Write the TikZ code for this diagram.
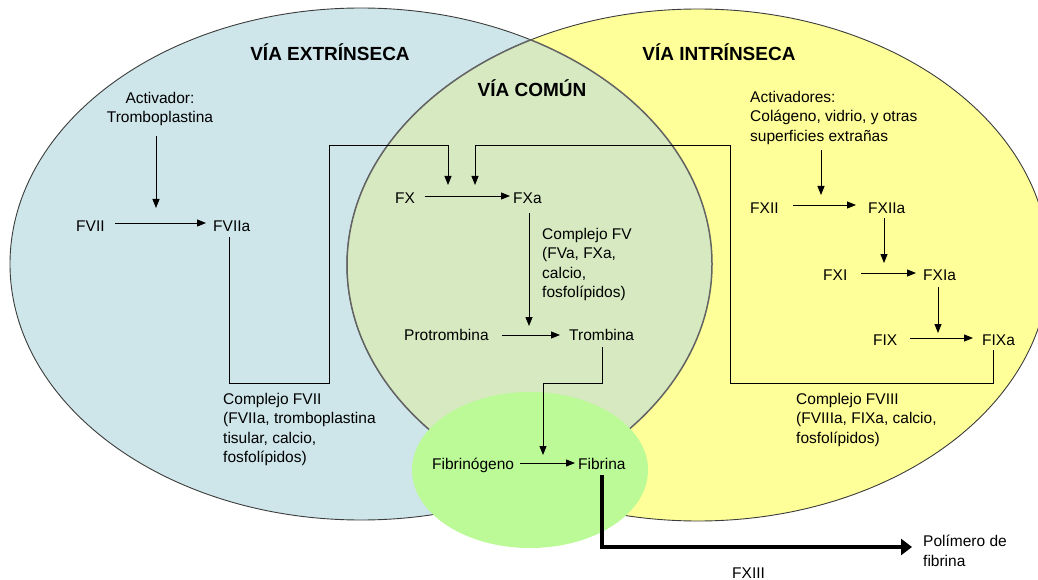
\documentclass[tikz,border=0pt]{standalone}
\usepackage{fontspec}
\setmainfont{Liberation Sans}
\usetikzlibrary{arrows.meta}
\definecolor{blueF}{RGB}{206,230,234}
\definecolor{yellowF}{RGB}{255,255,153}
\definecolor{commonF}{RGB}{214,233,192}
\definecolor{fibF}{RGB}{187,250,150}
\definecolor{edgeC}{RGB}{60,60,60}
\begin{document}
\begin{tikzpicture}[x=1pt,y=-1pt,
  lbl/.style={font=\fontsize{15.5}{19.5}\selectfont, inner sep=0pt, anchor=base west},
  ml/.style={font=\fontsize{15.5}{19.5}\selectfont, inner sep=0pt, anchor=north west, align=left},
  mlc/.style={font=\fontsize{15.5}{19.5}\selectfont, inner sep=0pt, anchor=north, align=center},
  ttl/.style={font=\bfseries\fontsize{19}{23}\selectfont, inner sep=0pt, anchor=base},
  conn/.style={line width=0.9pt, draw=black},
  arr/.style={conn, -{Triangle[length=9pt,width=7pt]}},
  bigarr/.style={line width=3.5pt, draw=black, -{Triangle[length=11pt,width=16pt]}},
  edge/.style={draw=edgeC, line width=0.9pt},
  lensedge/.style={draw=edgeC!80, line width=1.5pt}
]
\useasboundingbox (0,0) rectangle (1038,580);

% background sets
\begin{scope}
\clip (0,0) rectangle (1038,580);
\fill[blueF] (361,264) ellipse [x radius=351pt, y radius=256pt];
\draw[edge] (361,264) ellipse [x radius=351pt, y radius=256pt];
\fill[yellowF] (698,265) ellipse [x radius=351pt, y radius=256pt];
\draw[edge] (698,265) ellipse [x radius=351pt, y radius=256pt];
\begin{scope}
\clip (361,264) ellipse [x radius=351pt, y radius=256pt];
\fill[commonF] (698,265) ellipse [x radius=351pt, y radius=256pt];
\draw[lensedge] (698,265) ellipse [x radius=351pt, y radius=256pt];
\end{scope}
\begin{scope}
\clip (698,265) ellipse [x radius=351pt, y radius=256pt];
\draw[lensedge] (361,264) ellipse [x radius=351pt, y radius=256pt];
\end{scope}
\fill[fibF] (530,470) ellipse [x radius=118pt, y radius=78pt];
\end{scope}

% titles
\node[ttl] (tE) at (330,61) {VÍA EXTRÍNSECA};
\node[ttl] (tI) at (719,61) {VÍA INTRÍNSECA};
\node[ttl] (tC) at (532,97) {VÍA COMÚN};

% extrinsic
\node[mlc] (act) at (160,92) {Activador:\\Tromboplastina};
\node[lbl] (fvii) at (76,231) {FVII};
\node[lbl] (fviia) at (213,231) {FVIIa};
\node[ml] (cfvii) at (223,393) {Complejo FVII\\(FVIIa, tromboplastina\\tisular, calcio,\\fosfolípidos)};

% common
\node[lbl] (fx) at (395,204) {FX};
\node[lbl] (fxa) at (513,204) {FXa};
\node[ml] (cfv) at (542,228) {Complejo FV\\(FVa, FXa,\\calcio,\\fosfolípidos)};
\node[lbl] (prot) at (404,340) {Protrombina};
\node[lbl] (tromb) at (569,340) {Trombina};
\node[lbl] (fibg) at (432,469) {Fibrinógeno};
\node[lbl] (fib) at (578,469) {Fibrina};
\node[ml] (pol) at (923,535) {Polímero de\\fibrina};
\node[lbl] (fxiii) at (732,578) {FXIII};

% intrinsic
\node[ml] (acts) at (750,91) {Activadores:\\Colágeno, vidrio, y otras\\superficies extrañas};
\node[lbl] (fxii) at (750,213) {FXII};
\node[lbl] (fxiia) at (868,213) {FXIIa};
\node[lbl] (fxi) at (823,280) {FXI};
\node[lbl] (fxia) at (923,280) {FXIa};
\node[lbl] (fix) at (873,345) {FIX};
\node[lbl] (fixa) at (982,345) {FIXa};
\node[ml] (cfviii) at (796,393) {Complejo FVIII\\(FVIIIa, FIXa, calcio,\\fosfolípidos)};

% connectors: extrinsic
\draw[arr] ([shift={(-4,44)}]act.north) -- ([shift={(-57,-23)}]fviia.base west);
\draw[arr] ([shift={(39,-8)}]fvii.base west) -- ([shift={(-7,-8)}]fviia.base west);
\draw[arr] ([shift={(16,6)}]fviia.base west) -- ++(0,146) -- ++(100,0) -- ++(0,-238) -- ++(119,0) -- ([shift={(53,-19)}]fx.base west);

% connectors: intrinsic
\draw[arr] ([shift={(71,59)}]acts.north west) -- ([shift={(71,-18)}]fxii.base west);
\draw[arr] ([shift={(43,-8)}]fxii.base west) -- ([shift={(-12,-8)}]fxiia.base west);
\draw[arr] ([shift={(16,5)}]fxiia.base west) -- ([shift={(61,-17)}]fxi.base west);
\draw[arr] ([shift={(38,-7)}]fxi.base west) -- ([shift={(-7,-7)}]fxia.base west);
\draw[arr] ([shift={(15,7)}]fxia.base west) -- ([shift={(65,-12)}]fix.base west);
\draw[arr] ([shift={(37,-7)}]fix.base west) -- ([shift={(-9,-7)}]fixa.base west);
\draw[arr] ([shift={(11,5)}]fixa.base west) -- ++(0,33) -- ++(-263,0) -- ++(0,-238) -- ++(-255,0) -- ([shift={(80,-19)}]fx.base west);

% connectors: common
\draw[arr] ([shift={(30,-8)}]fx.base west) -- ([shift={(-3,-8)}]fxa.base west);
\draw[arr] ([shift={(16,9)}]fxa.base west) -- ([shift={(125,-14)}]prot.base west);
\draw[arr] ([shift={(98,-5)}]prot.base west) -- ([shift={(-9,-5)}]tromb.base west);
\draw[arr] ([shift={(33,7)}]tromb.base west) -- ++(0,36) -- ++(-59,0) -- ([shift={(-35,-14)}]fib.base west);
\draw[arr] ([shift={(88,-6)}]fibg.base west) -- ([shift={(-3,-6)}]fib.base west);
\draw[bigarr] ([shift={(24,6)}]fib.base west) -- ++(0,72) -- ([shift={(-11,12)}]pol.north west);
\end{tikzpicture}
\end{document}
